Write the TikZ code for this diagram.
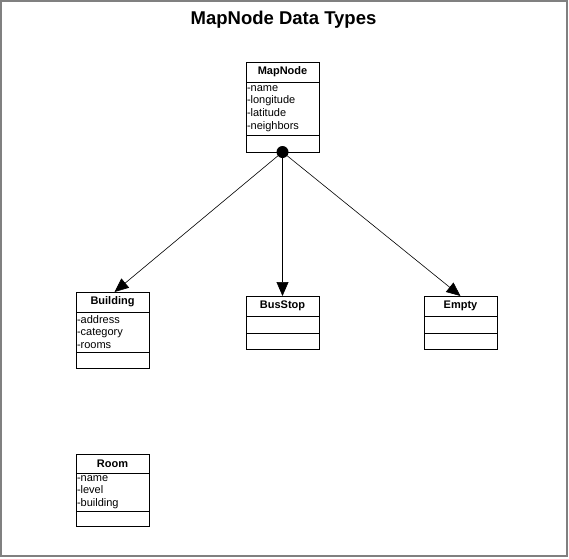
\documentclass[tikz,border=0pt]{standalone}
\usepackage{fontspec}
\setmainfont{Liberation Sans}
\usetikzlibrary{arrows.meta, positioning}

\begin{document}
\begin{tikzpicture}[
        x=1pt, y=-1pt,
        node distance=0pt,
        classname/.style={rectangle, draw, line width=0.8pt, minimum width=73pt, minimum height=20pt, inner sep=0pt, outer sep=0pt, anchor=north, font=\bfseries\fontsize{11}{13}\selectfont},
        attrs/.style={rectangle, draw, line width=0.8pt, text width=71pt, inner xsep=1pt, inner ysep=0.5pt, outer sep=0pt, align=left, anchor=north, font=\fontsize{11}{12.8}\selectfont},
        hub/.style={circle, fill=black, minimum size=12pt, inner sep=0pt},
        arrow/.style={-{Triangle[length=14pt, width=12pt]}, line width=0.6pt},
        frame/.style={draw=black!50, line width=2pt}
    ]
        \useasboundingbox (0,0) rectangle (569,558);
        \draw[frame] (1,1) rectangle (567,556);

        % Title
        \node[anchor=base, font=\bfseries\fontsize{18.5}{22}\selectfont] (title) at (283.5,24) {MapNode Data Types};

        % MapNode
        \node[classname] (mapnode) at (282.5,62) {MapNode};
        \node[attrs, minimum height=53pt, below=of mapnode] (mapnode-attrs) {-name\\-longitude\\-latitude\\-neighbors};
        \node[attrs, minimum height=17pt, below=of mapnode-attrs] (mapnode-ops) {};
        \node[hub] (hub) at (mapnode-ops.south) {};

        % Building
        \node[classname] (building) at (112.5,292) {Building};
        \node[attrs, minimum height=40pt, below=of building] (building-attrs) {-address\\-category\\-rooms};
        \node[attrs, minimum height=16pt, below=of building-attrs] (building-ops) {};

        % BusStop
        \node[classname] (busstop) at (282.5,296) {BusStop};
        \node[attrs, minimum height=17pt, below=of busstop] (busstop-attrs) {};
        \node[attrs, minimum height=16pt, below=of busstop-attrs] (busstop-ops) {};

        % Empty
        \node[classname] (empty) at (460.5,296) {Empty};
        \node[attrs, minimum height=17pt, below=of empty] (empty-attrs) {};
        \node[attrs, minimum height=16pt, below=of empty-attrs] (empty-ops) {};

        % Room
        \node[classname, minimum height=19pt] (room) at (112.5,454) {Room};
        \node[attrs, minimum height=38pt, below=of room] (room-attrs) {-name\\-level\\-building};
        \node[attrs, minimum height=15pt, below=of room-attrs] (room-ops) {};

        % Connections
        \draw[arrow] (hub.center) -- ([xshift=2pt]building.north);
        \draw[arrow] (hub.center) -- (busstop.north);
        \draw[arrow] (hub.center) -- (empty.north);
    \end{tikzpicture}
\end{document}
